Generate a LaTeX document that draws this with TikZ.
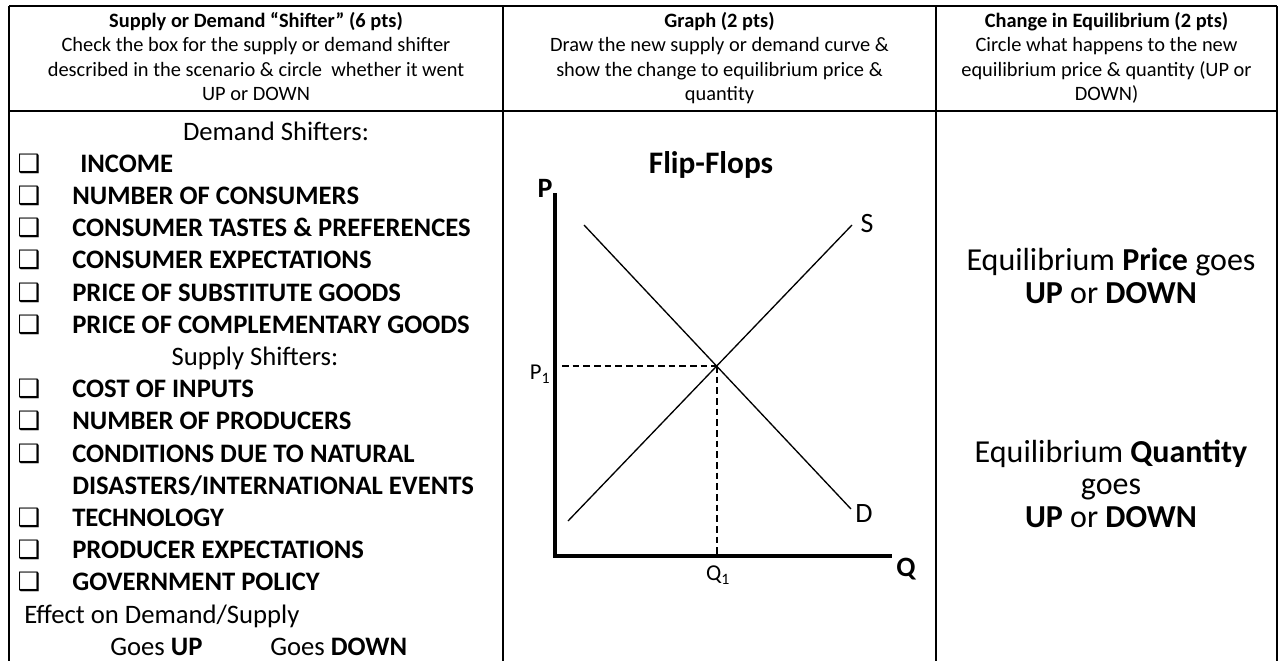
\documentclass[tikz,border=0pt]{standalone}
\usepackage{fontspec}
\setmainfont{Carlito}
\newfontfamily\dejavu{DejaVu Sans}
\begin{document}
\begin{tikzpicture}[x=0.75pt,y=-0.75pt,
  frame/.style={line width=1.5pt},
  hdr/.style={font=\fontsize{15.3}{18}\selectfont, anchor=base, inner sep=0pt},
  hdrb/.style={font=\fontsize{15.3}{18}\selectfont\bfseries, anchor=base, inner sep=0pt},
  body/.style={font=\fontsize{20}{24}\selectfont, anchor=base, inner sep=0pt},
  big/.style={font=\fontsize{24}{28}\selectfont, anchor=base, inner sep=0pt},
  item/.style={font=\fontsize{20}{24}\selectfont\bfseries, anchor=base west, inner sep=0pt},
  cbox/.style={font=\fontsize{19}{22}\selectfont\dejavu, anchor=base, inner sep=0pt},
  lbl/.style={font=\fontsize{21}{24}\selectfont\bfseries, inner sep=0pt},
  crv/.style={font=\fontsize{21}{24}\selectfont, inner sep=0pt},
  sub/.style={font=\fontsize{17}{20}\selectfont, inner sep=0pt},
  curve/.style={line width=1pt},
  axis/.style={line width=3.6pt},
  guide/.style={dash pattern=on 5pt off 3pt, line width=0.9pt}
]
\useasboundingbox (0,0) rectangle (1283,661);
% frame
\draw[frame] (9,6) -- (1277,6);
\draw[frame] (9,111) -- (1277,111);
\draw[frame] (9,6) -- (9,661);
\draw[frame] (503,6) -- (503,661);
\draw[frame] (936,6) -- (936,661);
\draw[frame] (1277,6) -- (1277,661);
% headers
\node[hdrb] (h1a) at (256,27) {Supply or Demand “Shifter” (6 pts)};
\node[hdr] (h1b) at (256,51.5) {Check the box for the supply or demand shifter};
\node[hdr] (h1c) at (256,76) {described in the scenario \& circle\ \ whether it went};
\node[hdr] (h1d) at (256,100.5) {UP or DOWN};
\node[hdrb] (h2a) at (719.5,27) {Graph (2 pts)};
\node[hdr] (h2b) at (719.5,51.5) {Draw the new supply or demand curve \&};
\node[hdr] (h2c) at (719.5,76) {show the change to equilibrium price \&};
\node[hdr] (h2d) at (719.5,100.5) {quantity};
\node[hdrb] (h3a) at (1106.5,27) {Change in Equilibrium (2 pts)};
\node[hdr] (h3b) at (1106.5,51.5) {Circle what happens to the new};
\node[hdr] (h3c) at (1106.5,76) {equilibrium price \& quantity (UP or};
\node[hdr] (h3d) at (1106.5,100.5) {DOWN)};
% column 1 body
\node[body] (dsh) at (276,140) {Demand Shifters:};
\node[cbox] (b1) at (29,172.2) {❑};  \node[item] (t1) at (80,172.2) {INCOME};
\node[cbox] (b2) at (29,204.4) {❑};  \node[item] (t2) at (72,204.4) {NUMBER OF CONSUMERS};
\node[cbox] (b3) at (29,236.6) {❑};  \node[item] (t3) at (72,236.6) {CONSUMER TASTES \& PREFERENCES};
\node[cbox] (b4) at (29,268.8) {❑};  \node[item] (t4) at (72,268.8) {CONSUMER EXPECTATIONS};
\node[cbox] (b5) at (29,301) {❑};    \node[item] (t5) at (72,301) {PRICE OF SUBSTITUTE GOODS};
\node[cbox] (b6) at (29,333.2) {❑};  \node[item] (t6) at (72,333.2) {PRICE OF COMPLEMENTARY GOODS};
\node[body] (ssh) at (255,365.4) {Supply Shifters:};
\node[cbox] (b7) at (29,397.6) {❑};  \node[item] (t7) at (72,397.6) {COST OF INPUTS};
\node[cbox] (b8) at (29,429.8) {❑};  \node[item] (t8) at (72,429.8) {NUMBER OF PRODUCERS};
\node[cbox] (b9) at (29,462) {❑};    \node[item] (t9) at (72,462) {CONDITIONS DUE TO NATURAL};
\node[item] (t9b) at (72,494.2) {DISASTERS/INTERNATIONAL EVENTS};
\node[cbox] (b10) at (29,526.4) {❑}; \node[item] (t10) at (72,526.4) {TECHNOLOGY};
\node[cbox] (b11) at (29,558.6) {❑}; \node[item] (t11) at (72,558.6) {PRODUCER EXPECTATIONS};
\node[cbox] (b12) at (29,590.8) {❑}; \node[item] (t12) at (72,590.8) {GOVERNMENT POLICY};
\node[body, anchor=base west] (eff) at (24,623) {Effect on Demand/Supply};
\node[body, anchor=base west] (gup) at (110,655.2) {Goes \textbf{UP}};
\node[body, anchor=base west] (gdn) at (270,655.2) {Goes \textbf{DOWN}};
% graph
\node[font=\fontsize{23.5}{27}\selectfont\bfseries, inner sep=0pt] (title) at (711,165) {Flip-Flops};
\coordinate (ytop) at (555,193);
\coordinate (orig) at (555,556);
\coordinate (xend) at (892,556);
\draw[axis] (ytop) -- (orig) -- (xend);
\node[lbl] (P) at (545,188) {P};
\node[lbl] (Q) at (906,569) {Q};
\coordinate (d0) at (584,225);
\coordinate (d1) at (851,509);
\coordinate (s0) at (568,521);
\coordinate (s1) at (852,225);
\coordinate (E) at (717,366);
\coordinate (pE) at (562,366);
\coordinate (qE) at (717,554);
\draw[curve] (d0) -- (d1);
\draw[curve] (s0) -- (s1);
\draw[guide] (pE) -- (E);
\draw[guide] (E) -- (qE);
\node[crv] (S) at (867,224) {S};
\node[crv] (D) at (864,514) {D};
\node[sub] (P1) at (540,374) {P\textsubscript{1}};
\node[sub] (Q1) at (718,575) {Q\textsubscript{1}};
% column 3
\node[big] (e1) at (1111,270) {Equilibrium \textbf{Price} goes};
\node[big] (e2) at (1111,303) {\textbf{UP} or \textbf{DOWN}};
\node[big] (e3) at (1111,462) {Equilibrium \textbf{Quantity}};
\node[big] (e4) at (1111,494.5) {goes};
\node[big] (e5) at (1111,527) {\textbf{UP} or \textbf{DOWN}};
\end{tikzpicture}
\end{document}
